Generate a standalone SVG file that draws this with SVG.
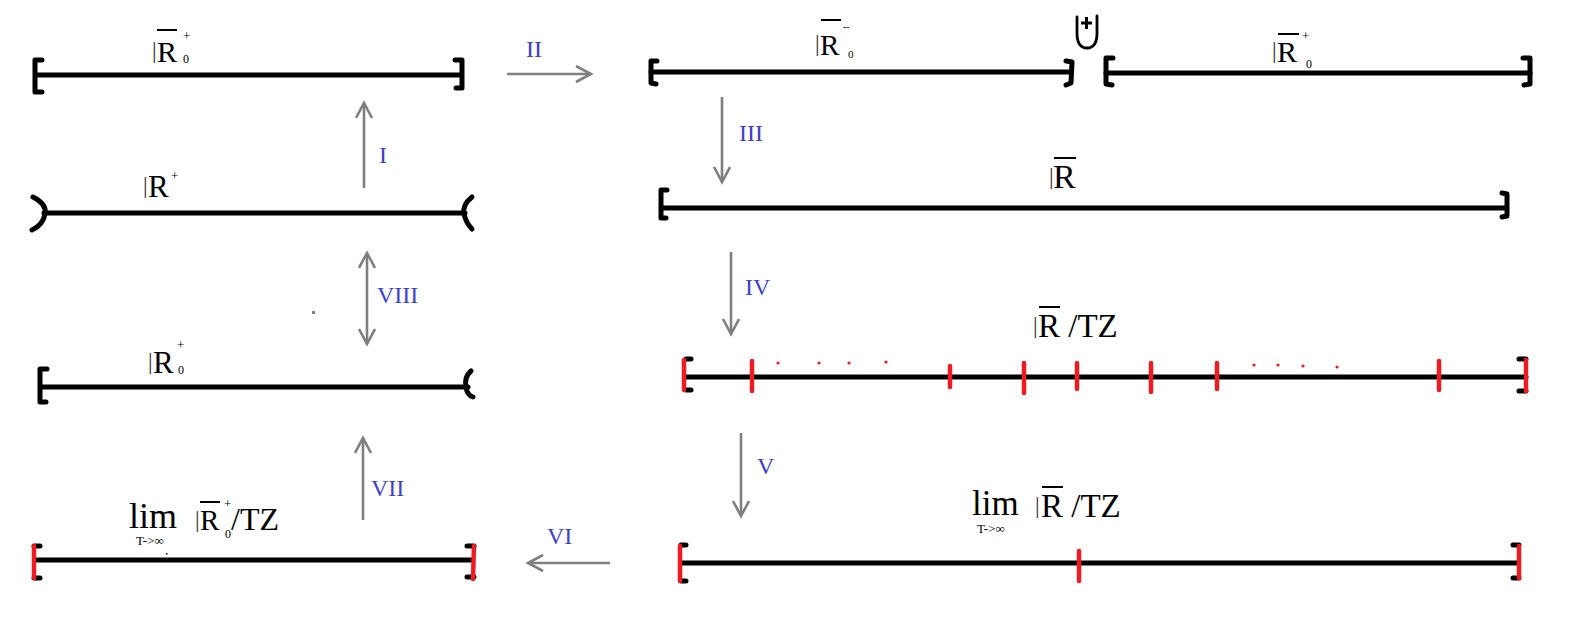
<svg xmlns="http://www.w3.org/2000/svg" width="1571" height="638" viewBox="0 0 1571 638">
<style>
.ln{stroke:#000;stroke-width:5;fill:none;stroke-linecap:round;stroke-linejoin:round}
.br{stroke:#000;stroke-width:5;fill:none;stroke-linecap:round;stroke-linejoin:round}
.rd{stroke:#ed1c24;stroke-width:4.5;fill:none;stroke-linecap:round}
.ar{stroke:#7f7f7f;stroke-width:2.6;fill:none}
.ov{stroke:#000;stroke-width:2}
.t{font-family:"Liberation Serif","Times New Roman",serif;fill:#000}
.bar{font-family:"Liberation Serif","Times New Roman",serif;fill:#3a3028;font-size:23px}
.lb{font-family:"Liberation Serif","Times New Roman",serif;fill:#3f3fcc;font-size:24px}
</style>
<defs>
<marker id="ah" viewBox="0 0 20 20" markerUnits="userSpaceOnUse" markerWidth="20" markerHeight="20" refX="16" refY="9" orient="auto-start-reverse">
<path d="M1,1 L16,9 L1,17" fill="none" stroke="#7f7f7f" stroke-width="2.6"/>
</marker>
</defs>

<g id="connectors">
<line class="ar" x1="364" y1="188" x2="364" y2="103" marker-end="url(#ah)"/>
<line class="ar" x1="507" y1="74" x2="591" y2="74" marker-end="url(#ah)"/>
<line class="ar" x1="722" y1="97" x2="722" y2="182" marker-end="url(#ah)"/>
<line class="ar" x1="731" y1="252" x2="731" y2="334" marker-end="url(#ah)"/>
<line class="ar" x1="741" y1="433" x2="741" y2="516" marker-end="url(#ah)"/>
<line class="ar" x1="610" y1="563" x2="528" y2="563" marker-end="url(#ah)"/>
<line class="ar" x1="363" y1="520" x2="363" y2="438" marker-end="url(#ah)"/>
<line class="ar" x1="367" y1="253" x2="367" y2="344" marker-start="url(#ah)" marker-end="url(#ah)"/>
<text class="lb" x="379" y="163">I</text>
<text class="lb" x="526" y="57">II</text>
<text class="lb" x="739" y="141">III</text>
<text class="lb" x="745" y="295">IV</text>
<text class="lb" x="757" y="474">V</text>
<text class="lb" x="547" y="544">VI</text>
<text class="lb" x="371" y="496">VII</text>
<text class="lb" x="377" y="303">VIII</text>
<rect x="312" y="311" width="3" height="3" fill="#7f7f7f"/>
</g>

<g id="n1">
<line class="ln" x1="36" y1="75" x2="461" y2="75"/>
<path class="br" d="M42,60 L35,60 L35,92 L42,92"/>
<path class="br" d="M455,60 L462,60 L462,88 L456,88"/>
<text class="bar" x="152" y="58">|</text>
<text class="t" x="157" y="62" font-size="30">R</text>
<line class="ov" x1="157" y1="30" x2="177" y2="30"/>
<text class="t" x="183" y="40" font-size="13">+</text>
<text class="t" x="183" y="63" font-size="12">0</text>
</g>

<g id="n2">
<line class="ln" x1="651" y1="72" x2="1071" y2="72"/>
<path class="br" d="M657,61 L651,61 L651,83 L656,84"/>
<path class="br" d="M1066,61 L1072,62 L1071,83 L1066,85"/>
<text class="bar" x="815" y="51">|</text>
<text class="t" x="820" y="55" font-size="29">R</text>
<line class="ov" x1="821" y1="20" x2="841" y2="20"/>
<text class="t" x="843" y="30" font-size="10">--</text>
<text class="t" x="848" y="58" font-size="11">0</text>
</g>

<g id="union">
<path d="M1077,17 L1077,33 Q1077,48 1087,48 Q1097,48 1097,33 L1097,16" fill="none" stroke="#000" stroke-width="2.8" stroke-linecap="round"/>
<path d="M1081,23 L1092,23 M1086.5,17 L1086.5,29" stroke="#000" stroke-width="3"/>
</g>

<g id="n3">
<line class="ln" x1="1106" y1="73" x2="1530" y2="73"/>
<path class="br" d="M1113,58 L1106,58 L1106,84 L1112,85"/>
<path class="br" d="M1523,58 L1530,58 L1530,84 L1524,85"/>
<text class="bar" x="1272" y="58">|</text>
<text class="t" x="1277" y="62" font-size="30">R</text>
<line class="ov" x1="1278" y1="34" x2="1299" y2="34"/>
<text class="t" x="1302" y="40" font-size="13">+</text>
<text class="t" x="1306" y="68" font-size="12">0</text>
</g>

<g id="n4">
<line class="ln" x1="44" y1="213" x2="465" y2="213"/>
<path class="br" d="M33,197 Q47,204 45,214 Q43,225 32,230"/>
<path class="br" d="M472,197 Q462,205 464,214 Q466,223 472,229"/>
<text class="bar" x="143" y="193">|</text>
<text class="t" x="148" y="197" font-size="31">R</text>
<text class="t" x="171" y="180" font-size="13">+</text>
</g>

<g id="n5">
<line class="ln" x1="41" y1="387" x2="468" y2="387"/>
<path class="br" d="M47,369 L40,369 L40,402 L46,402"/>
<path class="br" d="M471,371 Q464,377 466,387 Q467,395 473,397"/>
<text class="bar" x="148" y="369">|</text>
<text class="t" x="153" y="373" font-size="31">R</text>
<text class="t" x="177" y="349" font-size="13">+</text>
<text class="t" x="178" y="374" font-size="12">0</text>
</g>

<g id="n6">
<line class="ln" x1="36" y1="560" x2="472" y2="560"/>
<path class="br" d="M34,546 L40,546 M34,578 L40,578 M467,546 L474,546 M467,577 L474,577"/>
<line class="rd" x1="34" y1="546" x2="34" y2="578"/>
<line class="rd" x1="474" y1="546" x2="473" y2="579"/>
<text class="t" x="129" y="528" font-size="36">lim</text>
<text class="t" x="136" y="545" font-size="13">T-&gt;∞</text>
<rect x="166" y="553" width="1.5" height="1.5" fill="#000"/>
<text class="bar" x="195" y="527">|</text>
<text class="t" x="200" y="530" font-size="29">R</text>
<line class="ov" x1="200" y1="502" x2="220" y2="502"/>
<text class="t" x="224" y="508" font-size="13">+</text>
<text class="t" x="225" y="538" font-size="12">0</text>
<text class="t" x="231" y="530" font-size="32">/TZ</text>
</g>

<g id="n7">
<line class="ln" x1="662" y1="208" x2="1505" y2="208"/>
<path class="br" d="M667,190 L661,190 L661,218 L666,218"/>
<path class="br" d="M1502,193 L1507,194 L1507,216 L1502,217"/>
<text class="bar" x="1049" y="184">|</text>
<text class="t" x="1053" y="188" font-size="34">R</text>
<line class="ov" x1="1054" y1="158" x2="1076" y2="158"/>
</g>

<g id="n8">
<line class="ln" x1="686" y1="377" x2="1526" y2="377"/>
<path class="br" d="M686,359 L691,359 M686,390 L691,390 M1519,359 L1526,359 M1519,391 L1526,391"/>
<line class="rd" x1="684" y1="360" x2="684" y2="390"/>
<line class="rd" x1="1526" y1="360" x2="1526" y2="391"/>
<g class="rd">
<line x1="752" y1="361" x2="752" y2="391"/>
<line x1="950" y1="366" x2="950" y2="387"/>
<line x1="1024" y1="363" x2="1024" y2="393"/>
<line x1="1077" y1="363" x2="1077" y2="389"/>
<line x1="1151" y1="363" x2="1151" y2="392"/>
<line x1="1217" y1="363" x2="1217" y2="389"/>
<line x1="1439" y1="361" x2="1439" y2="390"/>
</g>
<g fill="#ed1c24">
<circle cx="778" cy="363" r="1.6"/><circle cx="819" cy="363" r="1.6"/><circle cx="849" cy="363" r="1.6"/><circle cx="886" cy="362" r="1.6"/>
<circle cx="1254" cy="365" r="1.6"/><circle cx="1278" cy="365" r="1.6"/><circle cx="1303" cy="366" r="1.6"/><circle cx="1337" cy="367" r="1.6"/>
</g>
<text class="bar" x="1033" y="333">|</text>
<text class="t" x="1038" y="337" font-size="33">R /TZ</text>
<line class="ov" x1="1039" y1="307" x2="1060" y2="307"/>
</g>

<g id="n9">
<line class="ln" x1="681" y1="563" x2="1518" y2="563"/>
<path class="br" d="M681,545 L686,545 M681,581 L686,581 M1513,545 L1519,545 M1513,578 L1519,578"/>
<line class="rd" x1="680" y1="546" x2="680" y2="581"/>
<line class="rd" x1="1519" y1="546" x2="1519" y2="578"/>
<line class="rd" x1="1079" y1="551" x2="1079" y2="581"/>
<text class="t" x="972" y="515" font-size="35">lim</text>
<text class="t" x="977" y="533" font-size="13">T-&gt;∞</text>
<text class="bar" x="1035" y="513">|</text>
<text class="t" x="1041" y="517" font-size="33">R /TZ</text>
<line class="ov" x1="1042" y1="487" x2="1063" y2="487"/>
</g>
</svg>
